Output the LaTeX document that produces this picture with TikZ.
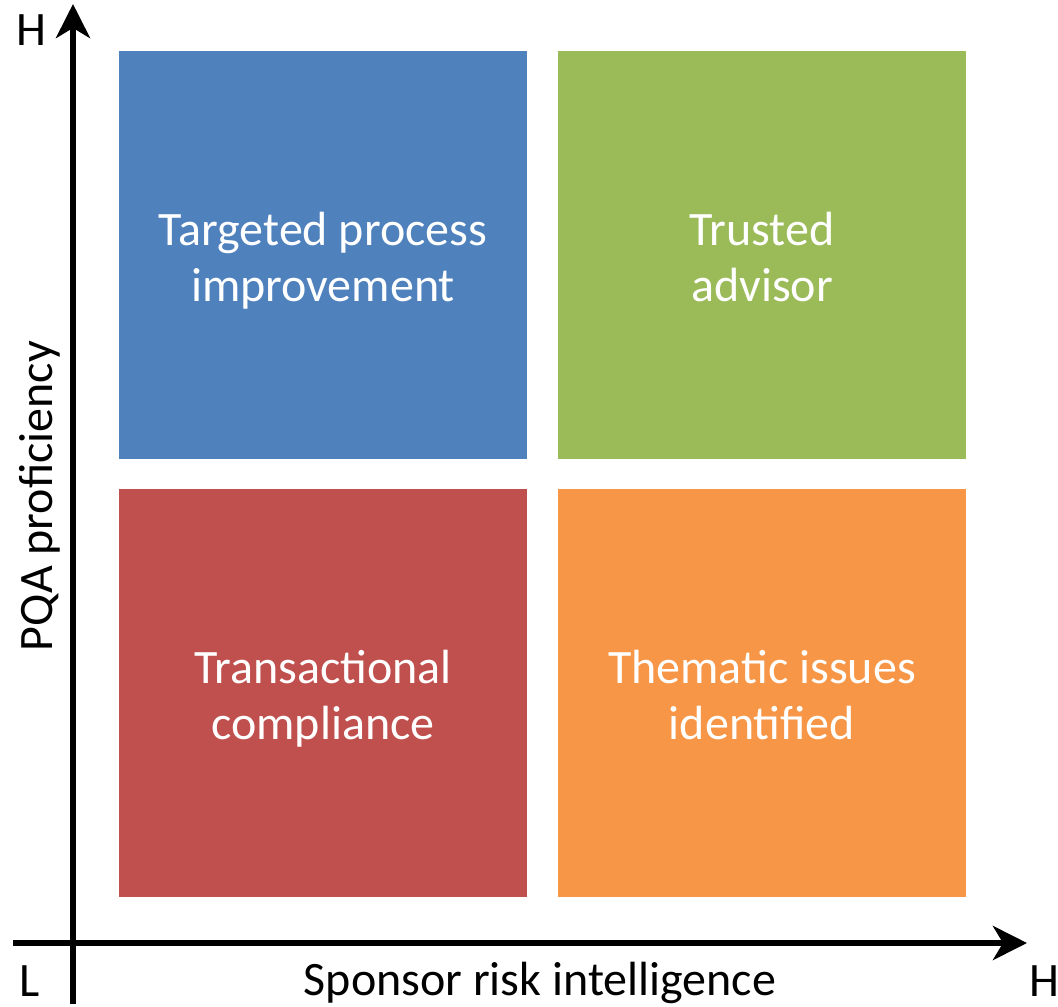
\documentclass[tikz,border=0pt]{standalone}
\usepackage{fontspec}
\setmainfont{Carlito}
\usetikzlibrary{arrows.meta}
\definecolor{qblue}{HTML}{4F81BD}
\definecolor{qgreen}{HTML}{9BBB59}
\definecolor{qred}{HTML}{C0504D}
\definecolor{qorange}{HTML}{F79646}
\begin{document}
\begin{tikzpicture}[x=1pt,y=-1pt,
  quad/.style={rectangle, draw=none, minimum width=408pt, minimum height=408pt, inner sep=0pt},
  qtext/.style={text=white, align=center, inner sep=0pt, font=\fontsize{48}{56}\selectfont},
  lbl/.style={text=black, inner sep=0pt, font=\fontsize{48}{56}\selectfont},
  axis/.style={line width=6pt, -{Stealth[length=34pt,width=34pt,inset=10pt]}}]
\useasboundingbox (0,0) rectangle (1058,1007);
\node[quad, fill=qblue] (tl) at (323,255) {};
\node[quad, fill=qgreen] (tr) at (762,255) {};
\node[quad, fill=qred] (bl) at (323,693) {};
\node[quad, fill=qorange] (br) at (762,693) {};
\node[qtext, anchor=base] (tlt) at ([yshift=-46pt]tl.center) {Targeted process\\improvement};
\node[qtext, anchor=base] (trt) at ([yshift=-46pt]tr.center) {Trusted\\advisor};
\node[qtext, anchor=base] (blt) at ([yshift=-46pt]bl.center) {Transactional\\compliance};
\node[qtext, anchor=base] (brt) at ([yshift=-46pt]br.center) {Thematic issues\\identified};
\coordinate (ybot) at (73,1004);
\coordinate (ytop) at (73,4);
\coordinate (xleft) at (13,943);
\coordinate (xright) at (1027,943);
\draw[axis] (ybot) -- (ytop);
\draw[axis] (xleft) -- (xright);
\node[lbl] (hy) at (31.5,30) {H};
\node[lbl] (lo) at (30,981) {L};
\node[lbl] (hx) at (1044,981) {H};
\node[lbl] (xl) at (540,983) {Sponsor risk intelligence};
\node[lbl, rotate=90] (yl) at (40,496) {PQA proficiency};
\end{tikzpicture}
\end{document}
